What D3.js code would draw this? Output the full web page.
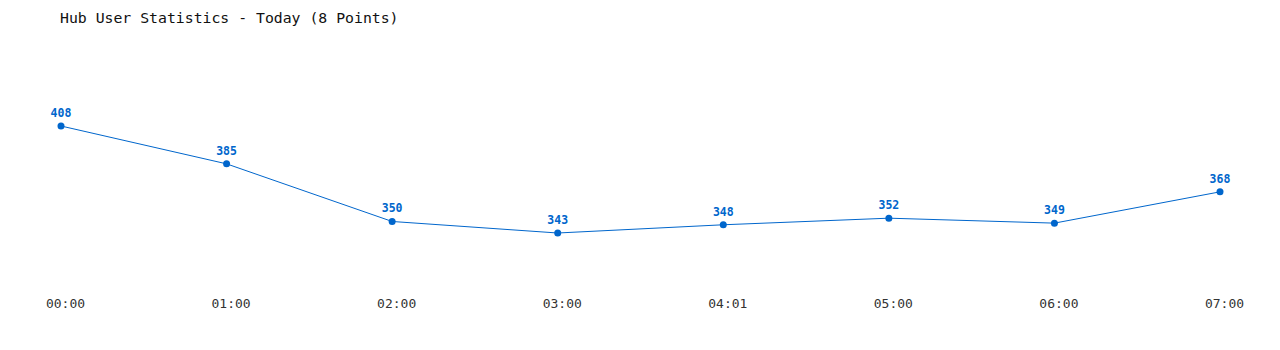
<!DOCTYPE html>
<html>
<head>
<meta charset="utf-8">
<script src="https://cdn.jsdelivr.net/npm/d3@7"></script>
<style>
  body { margin: 0; background: #fff; }
  text { font-family: "DejaVu Sans Mono", "Liberation Mono", monospace; }
</style>
</head>
<body>
<svg id="chart"></svg>
<script>
const times = ["00:00", "01:00", "02:00", "03:00", "04:01", "05:00", "06:00", "07:00"];
const users = [408, 385, 350, 343, 348, 352, 349, 368];
const title = "Hub User Statistics - Today (8 Points)";

const width = 1280, height = 350;
const color = "#0066cc";

const svg = d3.select("#chart")
  .attr("width", width)
  .attr("height", height);

// x: one point per sample, spread across the width
const x = d3.scalePoint()
  .domain(times)
  .range([61, 1220]);

const y = d3.scaleLinear()
  .domain([300, 440])
  .range([303.8, 73.3]);

svg.append("text")
  .attr("x", 60)
  .attr("y", 23)
  .attr("font-size", 14.8)
  .attr("fill", "#111")
  .text(title);

// axis labels, no line or ticks
const xAxis = svg.append("g")
  .attr("transform", "translate(4,295)")
  .call(d3.axisBottom(x).tickSize(0).tickPadding(0));
xAxis.select(".domain").remove();
xAxis.selectAll("text")
  .attr("font-size", 13)
  .attr("fill", "#333")
  .attr("dy", "1em")
  .style("font-family", "DejaVu Sans Mono, monospace");

const data = times.map((t, i) => ({t: t, v: users[i]}));

svg.append("path")
  .datum(data)
  .attr("fill", "none")
  .attr("stroke", color)
  .attr("stroke-width", 1)
  .attr("d", d3.line().x(d => x(d.t)).y(d => y(d.v)));

svg.selectAll("circle")
  .data(data)
  .enter()
  .append("circle")
  .attr("cx", d => x(d.t))
  .attr("cy", d => y(d.v))
  .attr("r", 3.5)
  .attr("fill", color);

svg.selectAll(".val")
  .data(data)
  .enter()
  .append("text")
  .attr("class", "val")
  .attr("x", d => x(d.t))
  .attr("y", d => y(d.v) - 9)
  .attr("text-anchor", "middle")
  .attr("font-size", 11.5)
  .attr("font-weight", "bold")
  .attr("fill", color)
  .text(d => d.v);
</script>
</body>
</html>
